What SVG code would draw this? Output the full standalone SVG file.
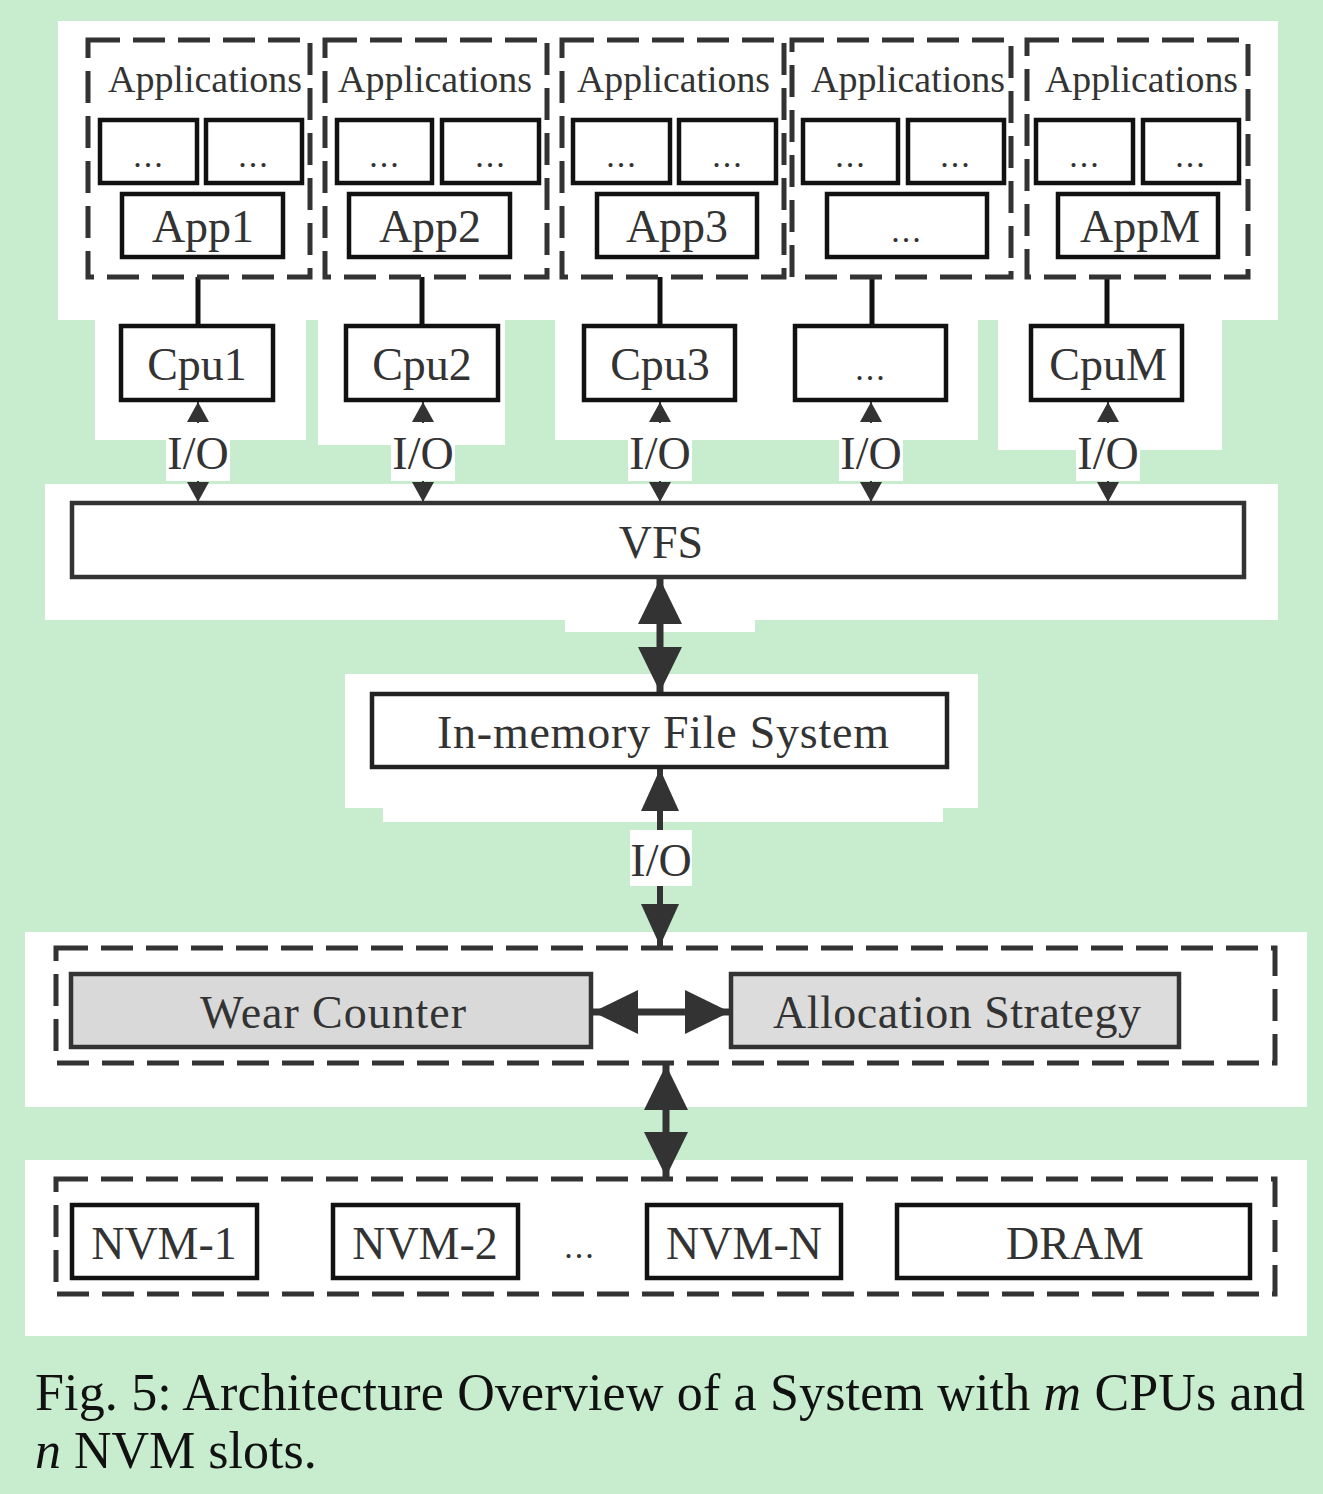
<svg xmlns="http://www.w3.org/2000/svg" width="1323" height="1494" viewBox="0 0 1323 1494">
<style>
text{font-family:"Liberation Serif","Times New Roman",serif;fill:#333;}
.lbl{font-size:46px;text-anchor:middle;}
.apps{font-size:37px;}
.dots{font-size:34px;text-anchor:middle;letter-spacing:2px;}
.box{fill:#fff;stroke:#111;stroke-width:4.5;}
.gbox{fill:#d9d9d9;stroke:#333;stroke-width:4.5;}
.dash1{fill:none;stroke:#333;stroke-width:5;stroke-dasharray:32 13;}
.dash2{fill:none;stroke:#333;stroke-width:5;stroke-dasharray:32 13;}
.wh{fill:#fff;}
.cap{font-size:52px;fill:#111;}
.tie{stroke:#111;stroke-width:5;fill:none;}
.small{stroke:#333;stroke-width:2;fill:none;marker-start:url(#ms);marker-end:url(#ms);}
.big{stroke:#333;stroke-width:7;fill:none;marker-start:url(#mb);marker-end:url(#mb);}
.mid{stroke:#333;stroke-width:6;fill:none;marker-start:url(#mm);marker-end:url(#mm);}
</style>
<defs>
<marker id="ms" markerUnits="userSpaceOnUse" markerWidth="20" markerHeight="22" refX="20" refY="11" orient="auto-start-reverse"><path d="M0,0 L20,11 L0,22 z" fill="#333"/></marker>
<marker id="mb" markerUnits="userSpaceOnUse" markerWidth="45" markerHeight="44" refX="45" refY="22" orient="auto-start-reverse"><path d="M0,0 L45,22 L0,44 z" fill="#333"/></marker>
<marker id="mm" markerUnits="userSpaceOnUse" markerWidth="42" markerHeight="38" refX="42" refY="19" orient="auto-start-reverse"><path d="M0,0 L42,19 L0,38 z" fill="#333"/></marker>
</defs>
<rect x="0" y="0" width="1323" height="1494" fill="#c7ecce"/>
<g id="background">
<rect class="wh" x="58" y="21" width="1220" height="299"/>
<rect class="wh" x="95" y="318" width="211" height="122"/>
<rect class="wh" x="318" y="318" width="187" height="127"/>
<rect class="wh" x="555" y="318" width="230" height="122"/>
<rect class="wh" x="785" y="318" width="193" height="122"/>
<rect class="wh" x="998" y="318" width="224" height="132"/>
<rect class="wh" x="45" y="484" width="1233" height="136"/>
<rect class="wh" x="565" y="618" width="190" height="14"/>
<rect class="wh" x="345" y="674" width="633" height="134"/>
<rect class="wh" x="383" y="806" width="560" height="16"/>
<rect class="wh" x="25" y="932" width="1282" height="175"/>
<rect class="wh" x="25" y="1160" width="1282" height="176"/>
</g>
<g id="connectors">
<line class="tie" x1="198" y1="277" x2="198" y2="325"/>
<line class="tie" x1="422" y1="277" x2="422" y2="325"/>
<line class="tie" x1="660" y1="277" x2="660" y2="325"/>
<line class="tie" x1="872" y1="277" x2="872" y2="325"/>
<line class="tie" x1="1107" y1="277" x2="1107" y2="325"/>
<line class="small" x1="198" y1="402" x2="198" y2="502"/>
<line class="small" x1="423" y1="402" x2="423" y2="502"/>
<line class="small" x1="660" y1="402" x2="660" y2="502"/>
<line class="small" x1="871" y1="402" x2="871" y2="502"/>
<line class="small" x1="1108" y1="402" x2="1108" y2="502"/>
<line class="big" x1="660" y1="579" x2="660" y2="692"/>
<line class="mid" x1="660" y1="769" x2="660" y2="946"/>
<line class="big" x1="593" y1="1012" x2="730" y2="1012"/>
<line class="big" x1="666" y1="1065" x2="666" y2="1177"/>
<g id="io-labels">
<rect class="wh" x="166" y="423" width="64" height="58"/>
<text class="lbl" x="198" y="469">I/O</text>
<rect class="wh" x="391" y="423" width="64" height="58"/>
<text class="lbl" x="423" y="469">I/O</text>
<rect class="wh" x="628" y="423" width="64" height="58"/>
<text class="lbl" x="660" y="469">I/O</text>
<rect class="wh" x="839" y="423" width="64" height="58"/>
<text class="lbl" x="871" y="469">I/O</text>
<rect class="wh" x="1076" y="423" width="64" height="58"/>
<text class="lbl" x="1108" y="469">I/O</text>
<rect class="wh" x="630" y="830" width="62" height="56"/>
<text class="lbl" x="661" y="876">I/O</text>
</g>
</g>
<g id="apps1">
<rect class="dash1" x="88" y="40" width="222" height="237"/>
<text class="apps" x="108" y="92" textLength="194" lengthAdjust="spacingAndGlyphs">Applications</text>
<rect class="box" x="100" y="120" width="97" height="63"/><text class="dots" x="149" y="167">...</text>
<rect class="box" x="206" y="120" width="96" height="63"/><text class="dots" x="254" y="167">...</text>
<rect class="box" x="122" y="194" width="161" height="63"/><text class="lbl" x="203" y="242">App1</text>
</g>
<g id="apps2">
<rect class="dash1" x="325" y="40" width="222" height="237"/>
<text class="apps" x="338" y="92" textLength="194" lengthAdjust="spacingAndGlyphs">Applications</text>
<rect class="box" x="337" y="120" width="95" height="63"/><text class="dots" x="385" y="167">...</text>
<rect class="box" x="442" y="120" width="97" height="63"/><text class="dots" x="491" y="167">...</text>
<rect class="box" x="349" y="194" width="161" height="63"/><text class="lbl" x="430" y="242">App2</text>
</g>
<g id="apps3">
<rect class="dash1" x="562" y="40" width="222" height="237"/>
<text class="apps" x="577" y="92" textLength="193" lengthAdjust="spacingAndGlyphs">Applications</text>
<rect class="box" x="573" y="120" width="97" height="63"/><text class="dots" x="622" y="167">...</text>
<rect class="box" x="679" y="120" width="97" height="63"/><text class="dots" x="728" y="167">...</text>
<rect class="box" x="597" y="194" width="160" height="63"/><text class="lbl" x="677" y="242">App3</text>
</g>
<g id="apps4">
<rect class="dash1" x="792" y="40" width="219" height="237"/>
<text class="apps" x="811" y="92" textLength="194" lengthAdjust="spacingAndGlyphs">Applications</text>
<rect class="box" x="803" y="120" width="95" height="63"/><text class="dots" x="851" y="167">...</text>
<rect class="box" x="908" y="120" width="96" height="63"/><text class="dots" x="956" y="167">...</text>
<rect class="box" x="827" y="194" width="160" height="63"/><text class="dots" x="907" y="242">...</text>
</g>
<g id="appsM">
<rect class="dash1" x="1027" y="40" width="221" height="237"/>
<text class="apps" x="1045" y="92" textLength="193" lengthAdjust="spacingAndGlyphs">Applications</text>
<rect class="box" x="1036" y="120" width="97" height="63"/><text class="dots" x="1085" y="167">...</text>
<rect class="box" x="1143" y="120" width="96" height="63"/><text class="dots" x="1191" y="167">...</text>
<rect class="box" x="1058" y="194" width="160" height="63"/><text class="lbl" x="1140" y="242">AppM</text>
</g>
<g id="cpu1"><rect class="box" x="121" y="326" width="152" height="74"/><text class="lbl" x="197" y="380">Cpu1</text></g>
<g id="cpu2"><rect class="box" x="346" y="326" width="152" height="74"/><text class="lbl" x="422" y="380">Cpu2</text></g>
<g id="cpu3"><rect class="box" x="584" y="326" width="151" height="74"/><text class="lbl" x="660" y="380">Cpu3</text></g>
<g id="cpu4"><rect class="box" x="795" y="326" width="151" height="74"/><text class="dots" x="871" y="380">...</text></g>
<g id="cpuM"><rect class="box" x="1031" y="326" width="151" height="74"/><text class="lbl" x="1108" y="380">CpuM</text></g>
<g id="vfs"><rect class="box" x="72" y="503" width="1172" height="74" style="stroke:#333"/><text class="lbl" x="661" y="558">VFS</text></g>
<g id="imfs"><rect class="box" x="372" y="694" width="575" height="73" style="stroke:#222"/><text class="lbl" x="663" y="748" textLength="452" lengthAdjust="spacing">In-memory File System</text></g>
<g id="wear-group">
<rect class="dash2" x="56" y="948" width="1219" height="115"/>
<g id="wear"><rect class="gbox" x="71" y="974" width="520" height="73"/><text class="lbl" x="333" y="1028" textLength="266" lengthAdjust="spacing">Wear Counter</text></g>
<g id="alloc"><rect class="gbox" x="731" y="974" width="448" height="73" style="fill:#dcdcdc"/><text class="lbl" x="957" y="1028" textLength="368" lengthAdjust="spacing">Allocation Strategy</text></g>
</g>
<g id="nvm-group">
<rect class="dash2" x="56" y="1179" width="1219" height="115"/>
<g id="nvm1"><rect class="box" x="72" y="1205" width="185" height="73"/><text class="lbl" x="164" y="1259">NVM-1</text></g>
<g id="nvm2"><rect class="box" x="333" y="1205" width="185" height="73"/><text class="lbl" x="425" y="1259">NVM-2</text></g>
<text class="dots" x="580" y="1258">...</text>
<g id="nvmN"><rect class="box" x="647" y="1205" width="194" height="73"/><text class="lbl" x="744" y="1259">NVM-N</text></g>
<g id="dram"><rect class="box" x="897" y="1205" width="353" height="73"/><text class="lbl" x="1075" y="1259">DRAM</text></g>
</g>
<g id="caption">
<text class="cap" x="35" y="1410" textLength="1270" lengthAdjust="spacing">Fig. 5: Architecture Overview of a System with <tspan font-style="italic">m</tspan> CPUs and</text>
<text class="cap" x="35" y="1468"><tspan font-style="italic">n</tspan> NVM slots.</text>
</g>
</svg>
